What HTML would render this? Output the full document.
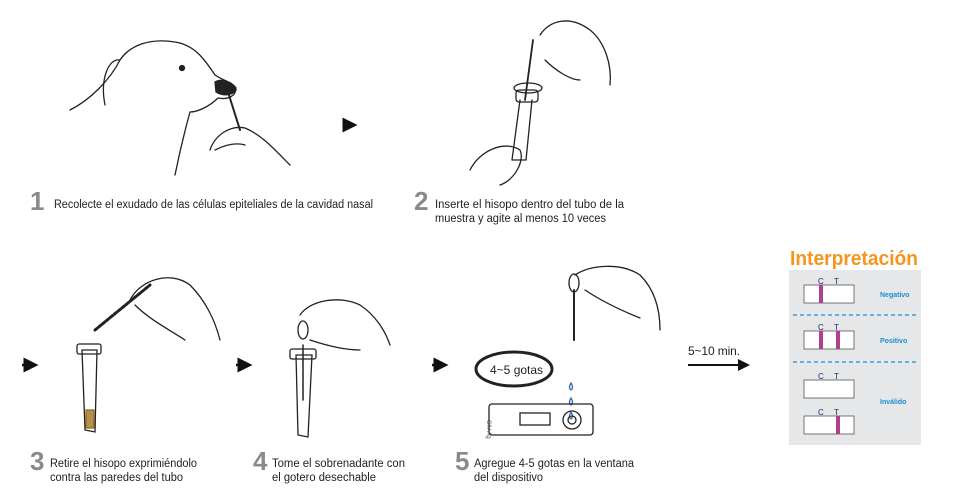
<!DOCTYPE html>
<html><head><meta charset="utf-8"><style>
html,body{margin:0;padding:0;background:#fff;}
svg{display:block;}
text{font-family:"Liberation Sans",sans-serif;}
</style></head><body>
<svg width="953" height="499" viewBox="0 0 953 499" xmlns="http://www.w3.org/2000/svg">
<defs>
<marker id="ah" markerWidth="6" markerHeight="6" refX="5" refY="3" orient="auto"><path d="M0,0 L6,3 L0,6 z" fill="#111"/></marker>
</defs>
<g fill="none" stroke="#222" stroke-width="1.3" stroke-linecap="round">
<path d="M70,110 C90,100 110,80 120,60 C130,45 150,38 175,42 C195,45 205,60 215,75 C222,80 232,82 236,88 C236,96 228,100 218,98 C210,106 198,112 190,112 C185,130 180,150 175,175"/>
<path d="M120,60 C108,58 100,80 105,105"/>
<circle cx="182" cy="68" r="2.5" fill="#222"/>
<path d="M215,82 C222,78 234,82 236,90 C232,96 222,96 216,92 Z" fill="#222"/>
<path d="M228,92 L240,130" stroke-width="2"/>
<path d="M210,150 C215,135 230,125 245,128 C262,135 275,150 290,165"/>
<path d="M215,150 C225,145 235,142 245,145"/>
<path d="M520,100 L512,160 M532,100 L526,160 M512,160 L526,160"/>
<rect x="516" y="90" width="22" height="12" rx="3"/>
<path d="M533,40 L525,100" stroke-width="1.8"/>
<path d="M540,35 C550,20 570,15 590,30 C605,42 612,65 610,85 M545,60 C555,70 570,80 580,80"/>
<path d="M470,170 C480,150 505,140 520,150 C525,160 515,180 500,185"/>
<ellipse cx="528" cy="88" rx="14" ry="5"/>
<path d="M82,350 L85,430 L95,432 L97,350 Z"/>
<rect x="77" y="344" width="24" height="10" rx="2"/>
<path d="M86,410 L94,410 L94,428 L86,428 Z" fill="#b8904a" stroke="#8a6a30"/>
<path d="M95,330 L150,285" stroke-dasharray="3,2" stroke-width="3"/>
<path d="M130,300 C140,280 170,270 190,285 C205,300 215,320 220,340 M135,305 C150,320 170,330 185,340"/>
<path d="M296,355 L298,435 L308,437 L312,355 Z"/>
<rect x="290" y="349" width="26" height="10" rx="2"/>
<path d="M303,345 L303,400" stroke-width="1.5"/>
<ellipse cx="303" cy="330" rx="5" ry="9"/>
<path d="M300,315 C310,300 340,295 360,305 C375,315 385,330 390,345 M310,340 C325,345 345,350 360,350"/>
<path d="M574,290 L574,340" stroke-width="2"/>
<ellipse cx="574" cy="283" rx="5" ry="9"/>
<path d="M575,275 C590,265 620,262 640,275 C655,290 660,310 660,330 M585,290 C600,300 620,310 640,318"/>
<ellipse cx="514" cy="369" rx="38" ry="17" stroke-width="3"/>
<path d="M571,383 q3,5 0,7 q-3,-2 0,-7z M571,398 q3,5 0,7 q-3,-2 0,-7z M571,412 q3,5 0,7 q-3,-2 0,-7z" stroke="#3a6ea5"/>
<rect x="489" y="404" width="104" height="31" rx="3"/>
<rect x="520" y="413" width="30" height="12"/>
<circle cx="572" cy="420" r="9"/><circle cx="572" cy="420" r="4"/>
</g>
<text x="490" y="374" font-size="12" fill="#222">4~5 gotas</text>
<text x="493" y="426" font-size="6" fill="#555" transform="rotate(90 493 420)">CIV Ag</text>
<g stroke="#111" stroke-width="2.5" fill="none">
<line x1="343" y1="125" x2="355" y2="125" marker-end="url(#ah)"/>
<line x1="22" y1="365" x2="36" y2="365" marker-end="url(#ah)"/>
<line x1="236" y1="365" x2="250" y2="365" marker-end="url(#ah)"/>
<line x1="432" y1="365" x2="446" y2="365" marker-end="url(#ah)"/>
<line x1="688" y1="365" x2="748" y2="365" stroke-width="2" marker-end="url(#ah)"/>
</g>
<text x="688" y="355" font-size="12" fill="#222" textLength="52">5~10 min.</text>
<g font-weight="bold" fill="#8a8a8a" font-size="26">
<text x="30" y="210">1</text><text x="414" y="210">2</text>
<text x="30" y="470">3</text><text x="253" y="470">4</text><text x="455" y="470">5</text>
</g>
<g font-size="11.5" fill="#222">
<text x="54" y="208" textLength="319" lengthAdjust="spacingAndGlyphs">Recolecte el exudado de las células epiteliales de la cavidad nasal</text>
<text x="435" y="208" textLength="189" lengthAdjust="spacingAndGlyphs">Inserte el hisopo dentro del tubo de la</text>
<text x="435" y="222" textLength="171" lengthAdjust="spacingAndGlyphs">muestra y agite al menos 10 veces</text>
<text x="50" y="467" textLength="147" lengthAdjust="spacingAndGlyphs">Retire el hisopo exprimiéndolo</text>
<text x="50" y="481" textLength="133" lengthAdjust="spacingAndGlyphs">contra las paredes del tubo</text>
<text x="272" y="467" textLength="133" lengthAdjust="spacingAndGlyphs">Tome el sobrenadante con</text>
<text x="272" y="481" textLength="104" lengthAdjust="spacingAndGlyphs">el gotero desechable</text>
<text x="474" y="467" textLength="160" lengthAdjust="spacingAndGlyphs">Agregue 4-5 gotas en la ventana</text>
<text x="474" y="481" textLength="69" lengthAdjust="spacingAndGlyphs">del dispositivo</text>
</g>
<text x="790" y="265" font-size="20" font-weight="bold" fill="#f7941d" textLength="128" lengthAdjust="spacingAndGlyphs">Interpretación</text>
<rect x="789" y="270" width="132" height="175" fill="#e6e7e9"/>
<g stroke="#1a8fd0" stroke-width="1.2" stroke-dasharray="4,3"><line x1="793" y1="315" x2="917" y2="315"/><line x1="793" y1="362" x2="917" y2="362"/></g>
<g fill="#fff" stroke="#555" stroke-width="0.8">
<rect x="804" y="285" width="50" height="18"/><rect x="804" y="331" width="50" height="18"/>
<rect x="804" y="380" width="50" height="18"/><rect x="804" y="416" width="50" height="18"/>
</g>
<g fill="#b0408f">
<rect x="819" y="285" width="4" height="18"/><rect x="819" y="331" width="4" height="18"/>
<rect x="836" y="331" width="4" height="18"/><rect x="836" y="416" width="4" height="18"/>
</g>
<g font-size="8" fill="#1a2a6c">
<text x="818" y="284">C</text><text x="834" y="284">T</text>
<text x="818" y="330">C</text><text x="834" y="330">T</text>
<text x="818" y="379">C</text><text x="834" y="379">T</text>
<text x="818" y="415">C</text><text x="834" y="415">T</text>
</g>
<g font-size="7" font-weight="bold" fill="#1a8fd0">
<text x="880" y="297">Negativo</text><text x="880" y="343">Positivo</text><text x="880" y="404">Inválido</text>
</g>
</svg>
</body></html>
